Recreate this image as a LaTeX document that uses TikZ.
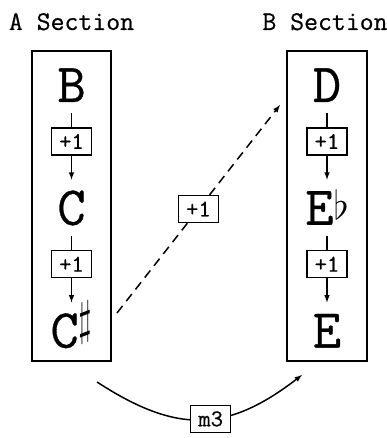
\RequirePackage{fix-cm}
\documentclass[tikz,border=0pt]{standalone}
\usepackage{fontspec}
\usepackage{tikz}
\usetikzlibrary{arrows}
\usetikzlibrary{positioning}
\newfontfamily\tyfont{Latin Modern Mono}[FakeBold=0.6]
\newcommand{\shp}{\raisebox{13pt}{\scalebox{0.75}[1]{\fontsize{48}{48}\selectfont$\sharp$}}}
\newcommand{\flt}{\raisebox{5pt}{\fontsize{40}{40}\selectfont$\flat$}}
\tikzset{
    note/.style={
           font=\fontsize{55}{60}\selectfont\tyfont,
           text height=34pt, text depth=0pt,
           inner ysep=11pt, inner xsep=2pt,
           },
    stepbox/.style={
           draw, solid, line width=1.4pt, fill=white,
           font=\fontsize{24}{26}\selectfont\tyfont,
           minimum width=40pt, minimum height=27pt, inner sep=0pt,
           },
    frame/.style={draw, line width=1.6pt, inner sep=0pt},
    heading/.style={font=\fontsize{27}{30}\selectfont\tyfont, anchor=base},
    link/.style={->, >=latex, line width=1.5pt},
}

\begin{document}
\begin{tikzpicture}[x=1pt, y=1pt]
\useasboundingbox (0,0) rectangle (387,438);
\node[frame, minimum width=79pt, minimum height=310pt] (secA) at (71.5,232) {};
\node[frame, minimum width=80pt, minimum height=310pt] (secB) at (327,232) {};
\node[heading] (titleA) at (71.5,408) {A Section};
\node[heading] (titleB) at (325,408) {B Section};
% A section
\node[note] (B) at (71.5,353) {B};
\node[stepbox, below=14pt of B] (BC) {+1};
\node[note, below=24pt of BC] (C) {C};
\node[stepbox, below=14pt of C] (CCs) {+1};
\node[note, below=24pt of CCs] (Cs) {C\shp};
\draw[line width=1.5pt] (B) -- (BC);
\draw[link] (BC) -- (C);
\draw[line width=1.5pt] (C) -- (CCs);
\draw[link] (CCs) -- (Cs);
% B section
\node[note] (D) at (327,353) {D};
\node[stepbox, below=14pt of D] (DEb) {+1};
\node[note, below=24pt of DEb] (Eb) {E\flt};
\node[stepbox, below=14pt of Eb] (EbE) {+1};
\node[note, below=24pt of EbE] (E) {E};
\draw[line width=1.5pt] (D) -- (DEb);
\draw[link] (DEb) -- (Eb);
\draw[line width=1.5pt] (Eb) -- (EbE);
\draw[link] (EbE) -- (E);
% between sections
\coordinate (dashfrom) at (117,125);
\coordinate (dashto) at (280,333);
\draw[link, dash pattern=on 9pt off 6pt] (dashfrom) -- node[stepbox] (dashlabel) {+1} (dashto);
\coordinate (curvefrom) at (97,56);
\coordinate (curveto) at (302,63);
\draw[link] (curvefrom) .. controls (176.7,4.2) and (226.7,5.1) .. node[stepbox, pos=0.55] (mlabel) {m3} (curveto);
\end{tikzpicture}
\end{document}
